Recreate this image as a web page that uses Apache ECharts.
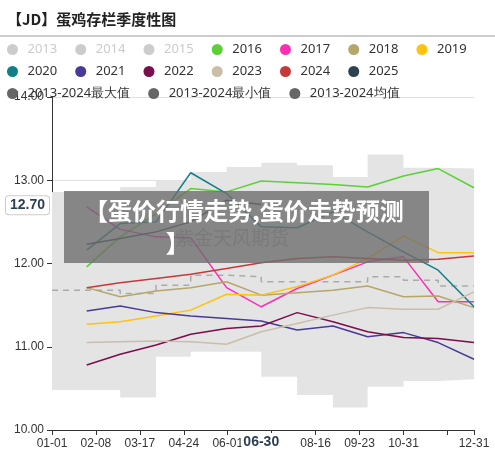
<!DOCTYPE html>
<html>
<head>
<meta charset="utf-8">
<script src="https://cdn.jsdelivr.net/npm/echarts@6/dist/echarts.min.js"></script>
<style>
  html, body { margin: 0; padding: 0; background: #fff; }
  #chart { width: 495px; height: 455px; }
</style>
</head>
<body>
<div id="chart"></div>
<script>
// 日期按闰年天数计 (0 = 01-01)
const monthEnds = [30, 59, 90, 120, 151, 181, 212, 243, 273, 304, 334, 365];
const tickLabels = ['01-01', '02-08', '03-17', '04-24', '06-01', '', '08-16', '09-23', '10-31', '', '12-31'];

const y2016 = [11.96, 12.32, 12.60, 12.90, 12.86, 12.99, 12.97, 12.95, 12.92, 13.05, 13.14, 12.91];
const y2017 = [12.68, 12.41, 12.32, 12.31, 11.71, 11.48, 11.70, 11.86, 12.02, 12.08, 11.54, 11.54];
const y2018 = [11.71, 11.60, 11.67, 11.71, 11.78, 11.62, 11.65, 11.68, 11.73, 11.60, 11.61, 11.47];
const y2019 = [11.27, 11.30, 11.37, 11.44, 11.63, 11.62, 11.72, 11.86, 12.06, 12.33, 12.13, 12.13];
const y2020 = [12.16, 12.48, 12.50, 13.09, 12.84, 12.44, 12.43, 12.62, 12.38, 12.14, 11.92, 11.48];
const y2021 = [11.43, 11.49, 11.41, 11.37, 11.34, 11.31, 11.20, 11.25, 11.12, 11.17, 11.05, 10.85];
const y2022 = [10.78, 10.91, 11.02, 11.15, 11.22, 11.25, 11.41, 11.30, 11.18, 11.11, 11.10, 11.05];
const y2023 = [11.05, 11.06, 11.07, 11.06, 11.03, 11.18, 11.28, 11.38, 11.47, 11.45, 11.45, 11.66];
const y2024 = [11.71, 11.77, 11.82, 11.87, 11.94, 12.01, 12.06, 12.08, 12.06, 12.04, 12.05, 12.09];
const y2025 = [12.23, 12.30, 12.38, 12.50, 12.76, 12.71];

// 2013-2024 区间 (首个点为 01-01)
const bandMax = [12.86, 12.86, 12.86, 12.92, 13.00, 13.10, 13.16, 13.21, 13.18, 13.04, 13.31, 13.15, 13.14];
const bandMin = [10.48, 10.48, 10.48, 10.39, 10.88, 10.94, 10.94, 10.64, 10.42, 10.27, 10.52, 10.59, 10.61];
const bandAvg = [11.68, 11.68, 11.68, 11.64, 11.74, 11.86, 11.84, 11.78, 11.78, 11.78, 11.84, 11.80, 11.73];

const bandX = [0].concat(monthEnds);
const pair = (xs, ys) => ys.map((v, i) => [xs[i], v]);

const years = [
  ['2013', '#cccccc', []], ['2014', '#cccccc', []], ['2015', '#cccccc', []],
  ['2016', '#5bd135', y2016], ['2017', '#ff2eb3', y2017], ['2018', '#b6a66a', y2018],
  ['2019', '#ffc20e', y2019], ['2020', '#127f88', y2020], ['2021', '#4a3a98', y2021],
  ['2022', '#7c0d4f', y2022], ['2023', '#cbbea8', y2023], ['2024', '#c8383a', y2024],
  ['2025', '#2c4152', y2025]
];

const series = [
  {
    name: '2013-2024最大值', type: 'line', step: 'start', symbol: 'none',
    data: pair(bandX, bandMax), lineStyle: { opacity: 0 },
    areaStyle: { color: '#e4e4e4', opacity: 1 }, itemStyle: { color: '#666' }, z: 1
  },
  {
    name: '2013-2024最小值', type: 'line', step: 'start', symbol: 'none',
    data: pair(bandX, bandMin), lineStyle: { opacity: 0 },
    areaStyle: { color: '#fff', opacity: 1 }, itemStyle: { color: '#666' }, z: 1
  },
  {
    name: '2013-2024均值', type: 'line', step: 'start', symbol: 'none',
    data: pair(bandX, bandAvg), itemStyle: { color: '#666' },
    lineStyle: { color: '#aaa', type: [6, 5], width: 1.5 }, z: 2
  }
];
years.forEach(([name, color, ys]) => {
  series.push({
    name, type: 'line', symbol: 'none', data: pair(monthEnds, ys),
    itemStyle: { color }, lineStyle: { width: 1.5, color }, z: 3
  });
});

const legendBase = {
  left: 2, itemWidth: 20, itemHeight: 11, itemGap: 18, icon: 'circle',
  selected: { '2013': false, '2014': false, '2015': false },
  inactiveColor: '#ccc',
  textStyle: { fontSize: 13, color: '#333', fontFamily: 'Noto Sans' }
};
const statNames = ['2013-2024最大值', '2013-2024最小值', '2013-2024均值'];
const legendRows = [
  years.slice(0, 7).map(y => y[0]),
  years.slice(7).map(y => y[0]),
  statNames.map(n => ({ name: n, itemStyle: { color: '#666' }, lineStyle: { color: '#999', opacity: 1 } }))
];

const chart = echarts.init(document.getElementById('chart'));
chart.setOption({
  animation: false,
  title: {
    text: '【JD】蛋鸡存栏季度性图', left: 2, top: 7,
    textStyle: { fontSize: 15, fontWeight: 'bold', color: '#222', fontFamily: 'Noto Sans CJK SC' }
  },
  legend: legendRows.map((data, i) => Object.assign({}, legendBase, { data, top: 38 + i * 22 })),
  graphic: [
    { type: 'line', shape: { x1: 0, y1: 36, x2: 495, y2: 36 }, style: { stroke: '#999', lineWidth: 1 } },
    { type: 'text', left: 175, top: 228, z: 100, style: { text: '紫金天风期货', fontSize: 19, fill: 'rgba(120,120,120,0.55)', fontFamily: 'Noto Sans CJK SC' } },
    { type: 'rect', shape: { x: 64, y: 191, width: 365, height: 72 }, z: 101, style: { fill: 'rgba(110,110,110,0.8)' } },
    { type: 'text', left: 84, top: 195, z: 102, style: { text: '【蛋价行情走势,蛋价走势预测\n               】', fontSize: 24, fontWeight: 'bold', lineHeight: 32, fill: '#fff', fontFamily: 'Noto Sans CJK SC' } }
  ],
  grid: { left: 52, right: 21, top: 97, bottom: 25, containLabel: false },
  xAxis: {
    type: 'value', min: 0, max: 365, interval: 38,
    axisLine: { show: true, lineStyle: { color: '#333' } },
    axisTick: { show: true, lineStyle: { color: '#333' } },
    splitLine: { show: false },
    axisLabel: {
      color: '#333', fontSize: 12, showMaxLabel: true,
      formatter: v => (v === 365 ? '12-31' : (tickLabels[Math.round(v / 38)] || ''))
    },
    axisPointer: {
      show: true, status: 'show', value: 181, lineStyle: { opacity: 0 },
      label: {
        show: true, formatter: () => '06-30', backgroundColor: '#fff', color: '#2c3e50',
        fontWeight: 'bold', fontSize: 14, padding: [2, 2]
      }
    }
  },
  yAxis: {
    type: 'value', min: 10, max: 14, interval: 1,
    axisLine: { show: true, lineStyle: { color: '#333' } },
    axisTick: { show: true },
    splitLine: { lineStyle: { color: '#e0e0e0' } },
    axisLabel: { color: '#333', fontSize: 12, formatter: v => v.toFixed(2) },
    axisPointer: {
      show: true, status: 'show', value: 12.7, lineStyle: { opacity: 0 },
      label: {
        show: true, formatter: () => '12.70', backgroundColor: '#fff', color: '#2c3e50',
        borderColor: '#ccc', borderWidth: 1, fontWeight: 'bold', fontSize: 14, padding: [2, 4]
      }
    }
  },
  series
});
</script>
</body>
</html>
